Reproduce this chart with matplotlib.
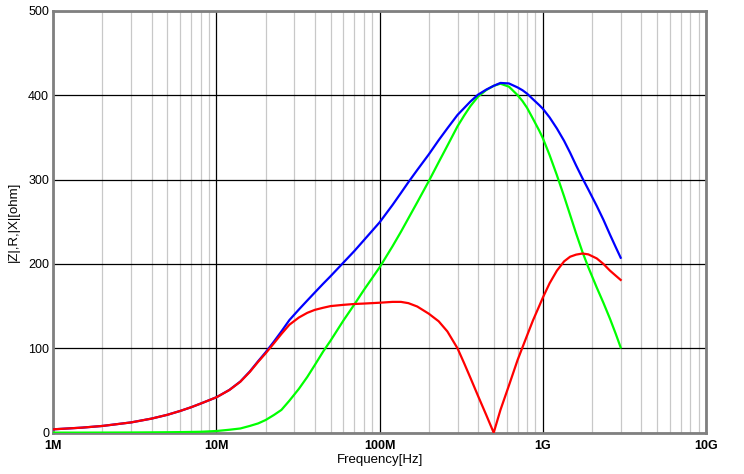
import numpy as np
import matplotlib
matplotlib.use("Agg")
import matplotlib.pyplot as plt
from matplotlib.ticker import FixedLocator, NullFormatter

# Frequency points (MHz)
freq_mhz = [1, 1.5, 2, 3, 4, 5, 6, 7, 8, 10, 12, 14, 16, 18, 20, 22.5, 25, 28, 32, 36,
            40, 45, 50, 60, 70, 80, 100, 120, 135, 150, 170, 200, 230, 260, 300, 330,
            360, 400, 450, 500, 550, 620, 700, 750, 800, 870, 950, 1000, 1100, 1220,
            1350, 1470, 1600, 1750, 1900, 2140, 2350, 2580, 2800, 3000]

# |X| (red)
x_abs = [4.0, 6.0, 8.0, 12.2, 16.7, 21.2, 25.8, 30.2, 34.5, 42, 50.6, 60.4, 72, 84, 94, 106,
         117, 128, 136.5, 142, 145.5, 148, 150, 151.5, 152.5, 153, 154, 155, 155, 153.5, 149.5,
         141, 132, 120, 100, 82, 65, 44, 21, 0, 27, 56, 86, 101, 115, 133, 150, 160,
         177, 192, 203, 208.5, 211, 212.3, 211.3, 206.5, 200, 192, 186, 181]

# R (green)
r_val = [0.1, 0.1, 0.15, 0.25, 0.4, 0.55, 0.7, 0.9, 1.1, 2, 3.5, 5, 8, 11, 15, 21,
         27, 38, 52, 66, 80, 96, 109, 133, 152, 169, 196, 221, 238, 254, 273,
         298, 320.5, 340, 363, 376, 387, 398, 406, 411, 413.5, 410, 400, 393, 385,
         372, 358, 349, 329, 305, 280, 258, 236, 214, 196, 172, 154, 135, 117, 101]

# |Z| (blue)
z_abs = [4.0, 6.0, 8.0, 12.2, 16.7, 21.2, 25.8, 30.2, 34.5, 42, 50.7, 60.6, 72.5, 84.7, 95.2, 108,
         120, 133.5, 146, 156.6, 166, 176.4, 185.4, 201.6, 215.3, 228, 249.3, 269.9, 284, 296.8, 311.3,
         329.7, 346.6, 360.6, 376.5, 384.8, 392.4, 400.4, 406.5, 411, 414.4, 413.8, 409.1, 405.8, 401.8,
         395.1, 388.2, 383.9, 373.6, 360.4, 345.8, 331.7, 316.6, 301.4, 288.2, 268.7, 252.4, 234.7, 219.7, 207.3]

x_ticks = [1e6, 1e7, 1e8, 1e9, 1e10]
x_tick_labels = ["1M", "10M", "100M", "1G", "10G"]
y_ticks = [0, 100, 200, 300, 400, 500]

freq = np.array(freq_mhz) * 1e6

plt.rcParams['font.family'] = ['Liberation Sans', 'DejaVu Sans']

fig = plt.figure(figsize=(7.44, 4.74), dpi=100)
ax = fig.add_axes([53.3 / 744, (474 - 432.7) / 474, (706 - 53.3) / 744, (432.7 - 10.7) / 474])

ax.plot(freq, r_val, color="#00ff00", lw=1.6, zorder=3, solid_joinstyle="round")
ax.plot(freq, z_abs, color="#0000ff", lw=1.6, zorder=4, solid_joinstyle="round")
ax.plot(freq, x_abs, color="#ff0000", lw=1.6, zorder=5, solid_joinstyle="round")

ax.set_xscale("log")
ax.set_xlim(1e6, 1e10)
ax.set_ylim(0, 500)

ax.xaxis.set_major_locator(FixedLocator(x_ticks))
ax.set_xticklabels(x_tick_labels, fontweight="bold")
minor = [m * 10 ** e for e in range(6, 10) for m in range(2, 10)]
ax.xaxis.set_minor_locator(FixedLocator(minor))
ax.xaxis.set_minor_formatter(NullFormatter())
ax.set_yticks(y_ticks)
ax.set_yticklabels([str(v) for v in y_ticks])

ax.grid(which="major", color="black", lw=0.9, zorder=1)
ax.grid(which="minor", axis="x", color="#c8c8c8", lw=0.9, zorder=0)
ax.set_axisbelow(True)

for s in ax.spines.values():
    s.set_color("#808080")
    s.set_linewidth(2)

ax.tick_params(axis="both", which="both", length=0, labelsize=9, colors="black")
ax.tick_params(axis="x", pad=5)
ax.tick_params(axis="y", pad=3)

ax.set_xlabel("Frequency[Hz]", fontsize=9.5, labelpad=2)
ax.set_ylabel("|Z|,R,|X|[ohm]", fontsize=9.5, labelpad=6)

fig.savefig("out.png", dpi=100)
